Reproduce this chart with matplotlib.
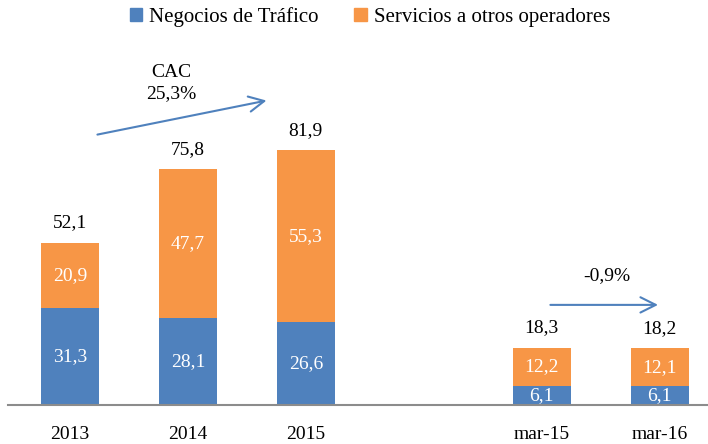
import matplotlib
matplotlib.use("Agg")
import matplotlib.pyplot as plt
from matplotlib.patches import Patch

categories = ["2013", "2014", "2015", "mar-15", "mar-16"]
trafico = [31.3, 28.1, 26.6, 6.1, 6.1]
servicios = [20.9, 47.7, 55.3, 12.2, 12.1]
totals = [52.1, 75.8, 81.9, 18.3, 18.2]
series_names = ["Negocios de Tráfico", "Servicios a otros operadores"]

positions = [0, 1, 2, 4, 5]
BLUE = "#4F81BD"
ORANGE = "#F79646"

plt.rcParams['font.family'] = ['Liberation Serif', 'DejaVu Serif']

def fmt(v):
    return f"{v:.1f}".replace(".", ",")

fig = plt.figure(figsize=(7.08, 4.44), dpi=100)
ax = fig.add_axes([8/708, (444-405)/444, 700/708, (405-40)/444])

w = 0.49
ax.bar(positions, trafico, width=w, color=BLUE, zorder=2)
ax.bar(positions, servicios, width=w, bottom=trafico, color=ORANGE, zorder=2)

fs = 14
for p, t, s, tot in zip(positions, trafico, servicios, totals):
    ax.text(p, t/2, fmt(t), ha="center", va="center", color="white", fontsize=fs, zorder=3)
    ax.text(p, t + s/2, fmt(s), ha="center", va="center", color="white", fontsize=fs, zorder=3)
    ax.text(p, tot + 6.5, fmt(tot), ha="center", va="center", color="black", fontsize=fs, zorder=3)

ax.set_xlim(-0.525, 5.41)
ax.set_ylim(0, 117.4)
ax.set_xticks(positions)
ax.set_xticklabels(categories, fontsize=fs)
ax.tick_params(axis="x", length=0, pad=15)
ax.set_yticks([])
for sp in ["top", "right", "left"]:
    ax.spines[sp].set_visible(False)
ax.spines["bottom"].set_color("#8C8C8C")
ax.spines["bottom"].set_linewidth(1.5)

arrowprops = dict(arrowstyle="->,head_length=1.1,head_width=0.55", color=BLUE, lw=1.5)
ax.annotate("", xy=(1.69, 98.1), xytext=(0.21, 86.8), arrowprops=arrowprops)
ax.text(0.86, 107.1, "CAC", ha="center", va="center", fontsize=fs)
ax.text(0.86, 100.3, "25,3%", ha="center", va="center", fontsize=fs)
ax.annotate("", xy=(5.01, 32.2), xytext=(4.05, 32.2), arrowprops=arrowprops)
ax.text(4.55, 41.5, "-0,9%", ha="center", va="center", fontsize=fs)

handles = [Patch(color=BLUE), Patch(color=ORANGE)]
fig.legend(handles, series_names, loc="center", bbox_to_anchor=(0.5226, 1 - 17/444),
           ncol=2, frameon=False, fontsize=15, handlelength=0.6, handleheight=0.6,
           handletextpad=0.35, columnspacing=1.7)

fig.savefig("out.png", dpi=100)
